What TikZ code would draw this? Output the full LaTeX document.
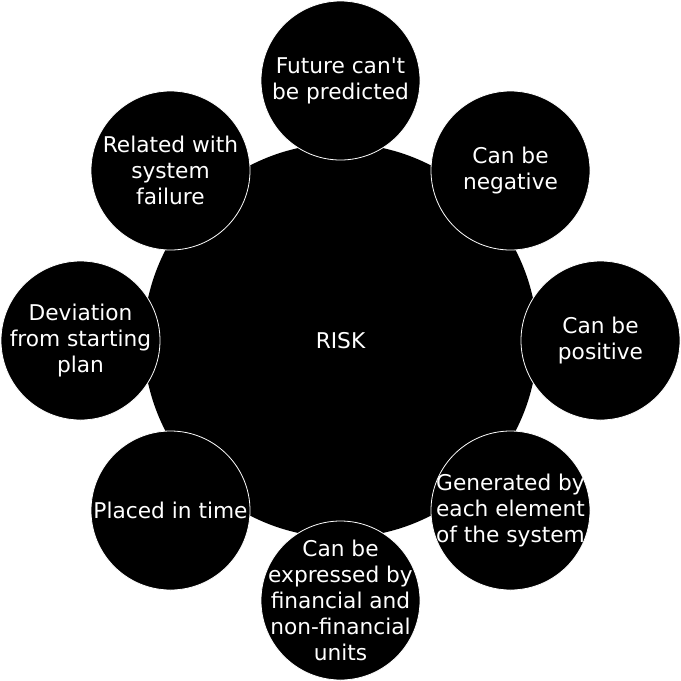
\documentclass[tikz,border=0pt]{standalone}
\usepackage{fontspec}
\setmainfont{DejaVu Sans}
\begin{document}
\begin{tikzpicture}[x=1pt,y=-1pt,
  bigc/.style={circle,fill=black,draw=none,minimum size=394pt,inner sep=0pt,
    text=white,font=\fontsize{21.7}{26}\selectfont},
  smallc/.style={circle,fill=black,draw=white,line width=0.8pt,minimum size=159pt,inner sep=0pt},
  txt/.style={text=white,align=center,inner sep=0pt,font=\fontsize{21.7}{26}\selectfont}]
\useasboundingbox (0,0) rectangle (681,681);
\node[bigc] (risk) at (340.5,340.5) {RISK};
\node[smallc] (n1) at (340.5,80.5) {};
\node[txt] (t1) at (n1) {Future can\textquotesingle t\\be predicted};
\node[smallc] (n2) at (510.5,170.5) {};
\node[txt] (t2) at (n2) {Can be\\negative};
\node[smallc] (n3) at (600.5,340.5) {};
\node[txt] (t3) at (n3) {Can be\\positive};
\node[smallc] (n4) at (510.5,510.5) {};
\node[txt] (t4) at (n4) {Generated by\\each element\\of the system};
\node[smallc] (n5) at (340.5,600.5) {};
\node[txt] (t5) at (n5) {Can be\\expressed by\\financial and\\non-financial\\units};
\node[smallc] (n6) at (170.5,510.5) {};
\node[txt] (t6) at (n6) {Placed in time};
\node[smallc] (n7) at (80.5,340.5) {};
\node[txt] (t7) at (n7) {Deviation\\from starting\\plan};
\node[smallc] (n8) at (170.5,170.5) {};
\node[txt] (t8) at (n8) {Related with\\system\\failure};
\end{tikzpicture}
\end{document}
